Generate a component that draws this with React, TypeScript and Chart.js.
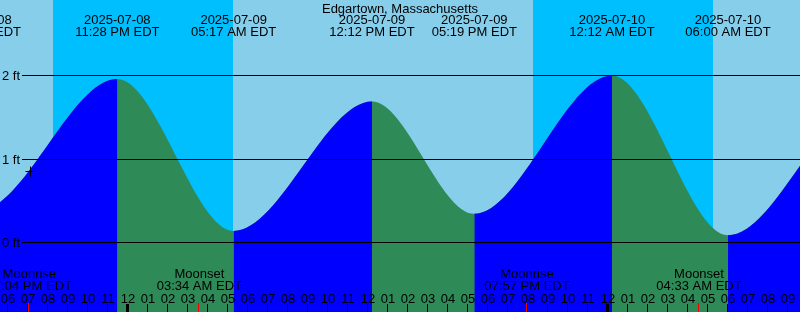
import React, { useEffect, useRef } from 'react';
import { Chart, registerables } from 'chart.js';

Chart.register(...registerables);

// ---- data (hours are relative to 2025-07-09 00:00 EDT) ----
const TITLE = 'Edgartown, Massachusetts';

// high / low tide extremes (incl. ones just outside the window)
const tideHours = [-13.6, -7.48, -0.533, 5.283, 12.2, 17.317, 24.2, 30.0, 36.9, 43.2];
const tideFeet = [1.75, 0.38, 1.958, 0.139, 1.689, 0.343, 2.0, 0.087, 1.65, 0.3];
const tideDates = ['2025-07-08', '2025-07-08', '2025-07-08', '2025-07-09', '2025-07-09', '2025-07-09', '2025-07-10', '2025-07-10', '2025-07-10', '2025-07-10'];
const tideTimes = ['10:24 AM EDT', '04:31 PM EDT', '11:28 PM EDT', '05:17 AM EDT', '12:12 PM EDT', '05:19 PM EDT', '12:12 AM EDT', '06:00 AM EDT', '12:54 PM EDT', '07:12 PM EDT'];

// night periods
const sunsetHours = [-3.75, 20.267];
const sunriseHours = [5.25, 29.233];

// moon events
const moonHours = [-4.933, 3.567, 19.95, 28.55];
const moonNames = ['Moonrise', 'Moonset', 'Moonrise', 'Moonset'];
const moonTimes = ['07:04 PM EDT', '03:34 AM EDT', '07:57 PM EDT', '04:33 AM EDT'];

// current-time mark
const nowHour = -4.875;
const nowFeet = 0.85;

// y-axis levels
const levelFeet = [2, 1, 0];
const levelLabels = ['2 ft', '1 ft', '0 ft'];

// hour ticks along the bottom
const hourTicks = [-6, -5, -4, -3, -2, -1, 0, 1, 2, 3, 4, 5, 6, 7, 8, 9, 10, 11, 12, 13, 14, 15, 16, 17, 18, 19, 20, 21, 22, 23, 24, 25, 26, 27, 28, 29, 30, 31, 32, 33];
const hourLabels = ['06', '07', '08', '09', '10', '11', '12', '01', '02', '03', '04', '05', '06', '07', '08', '09', '10', '11', '12', '01', '02', '03', '04', '05', '06', '07', '08', '09', '10', '11', '12', '01', '02', '03', '04', '05', '06', '07', '08', '09'];
const midnightHours = [0, 24];

// window
const X_MIN = -6.4;
const X_MAX = 33.6;
const Y_MIN = -0.8323;
const Y_MAX = 2.9042;

// ---- styles ----
const DAY = '#87CEEB';
const NIGHT = '#00BFFF';
const RISING = '#0000FF';
const FALLING = '#2E8B57';
const FONT = '13px "Liberation Sans", Arial, sans-serif';

const decorPlugin = {
  id: 'tideDecor',
  beforeDatasetsDraw(chart: any) {
    const { ctx, chartArea, scales } = chart;
    const x = scales.x;
    ctx.save();
    ctx.fillStyle = DAY;
    ctx.fillRect(0, 0, chart.width, chart.height);
    ctx.fillStyle = NIGHT;
    for (let i = 0; i < sunsetHours.length; i++) {
      const x0 = Math.round(x.getPixelForValue(sunsetHours[i]));
      const x1 = Math.round(x.getPixelForValue(sunriseHours[i]));
      ctx.fillRect(x0, chartArea.top, x1 - x0, chartArea.bottom - chartArea.top);
    }
    ctx.restore();
  },
  afterDatasetsDraw(chart: any) {
    const { ctx, chartArea, scales } = chart;
    const x = scales.x;
    const y = scales.y;
    const W = chartArea.right;
    const H = chartArea.bottom;
    ctx.save();
    ctx.fillStyle = '#000';
    ctx.font = FONT;
    ctx.textBaseline = 'alphabetic';

    // level lines and labels
    ctx.textAlign = 'left';
    for (let i = 0; i < levelFeet.length; i++) {
      const py = y.getPixelForValue(levelFeet[i]);
      ctx.fillRect(22, Math.floor(py), W - 22, 1);
      ctx.fillText(levelLabels[i], 2, Math.floor(py) + 5);
    }

    // title + tide event labels
    ctx.textAlign = 'center';
    ctx.fillText(TITLE, (chartArea.left + W) / 2, 12.5);
    for (let i = 0; i < tideHours.length; i++) {
      const px = x.getPixelForValue(tideHours[i]);
      ctx.fillText(tideDates[i], px, 24);
      ctx.fillText(tideTimes[i], px, 36);
    }

    // moon labels
    for (let i = 0; i < moonHours.length; i++) {
      const px = x.getPixelForValue(moonHours[i]);
      ctx.fillText(moonNames[i], px, 278);
      ctx.fillText(moonTimes[i], px, 289.5);
    }

    // hour labels and ticks
    for (let i = 0; i < hourTicks.length; i++) {
      const px = x.getPixelForValue(hourTicks[i]);
      ctx.fillText(hourLabels[i], px, 302.5);
      const w = midnightHours.includes(hourTicks[i]) ? 3 : 1;
      ctx.fillRect(Math.floor(px - w / 2), H - 8, w, 8);
    }
    ctx.fillStyle = '#FF0000';
    for (let i = 0; i < moonHours.length; i++) {
      const px = x.getPixelForValue(moonHours[i]);
      ctx.fillRect(Math.floor(px - 0.5), H - 9, 1, 9);
    }
    ctx.restore();
  },
};

export default function App() {
  const ref = useRef<HTMLCanvasElement>(null);
  useEffect(() => {
    document.body.style.margin = '0';
    const canvas = ref.current;
    if (!canvas) return;
    const tidePoints = tideHours.map((h, i) => ({ x: h, y: tideFeet[i] }));
    const chart = new Chart(canvas, {
      type: 'line',
      data: {
        datasets: [
          {
            // rising parts (drawn over the falling base)
            type: 'line',
            order: 1,
            data: tidePoints,
            cubicInterpolationMode: 'monotone',
            fill: 'start',
            pointRadius: 0,
            borderWidth: 0,
            borderColor: 'rgba(0,0,0,0)',
            backgroundColor: RISING,
            clip: 0,
            segment: {
              backgroundColor: (c: any) => (c.p1.parsed.y >= c.p0.parsed.y ? RISING : 'rgba(0,0,0,0)'),
            },
          } as any,
          {
            // whole water body, falling colour as base
            type: 'line',
            order: 2,
            data: tidePoints,
            cubicInterpolationMode: 'monotone',
            fill: 'start',
            pointRadius: 0,
            borderWidth: 0,
            borderColor: 'rgba(0,0,0,0)',
            backgroundColor: FALLING,
            clip: 0,
          } as any,
          {
            type: 'scatter',
            order: 0,
            data: [{ x: nowHour, y: nowFeet }],
            pointStyle: 'cross',
            pointRadius: 5,
            borderColor: '#000',
            backgroundColor: '#000',
            borderWidth: 1,
          } as any,
        ],
      },
      options: {
        responsive: false,
        animation: false,
        devicePixelRatio: 1,
        layout: { padding: 0, autoPadding: false },
        plugins: { legend: { display: false }, tooltip: { enabled: false }, title: { display: false } },
        events: [],
        scales: {
          x: { type: 'linear', display: false, min: X_MIN, max: X_MAX },
          y: { type: 'linear', display: false, min: Y_MIN, max: Y_MAX },
        },
      },
      plugins: [decorPlugin],
    } as any);
    return () => chart.destroy();
  }, []);
  return (
    <div style={{ position: 'absolute', left: 0, top: 0, width: 800, height: 312 }}>
      <canvas ref={ref} width={800} height={312} style={{ display: 'block', width: 800, height: 312 }} />
    </div>
  );
}
